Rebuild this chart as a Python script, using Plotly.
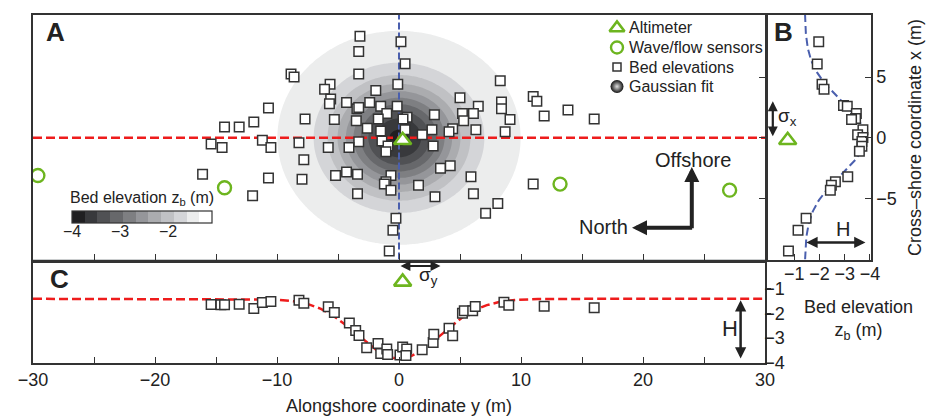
import numpy as np
import plotly.graph_objects as go

W, HP = 930, 416

# ---------------- data ----------------
# Panel A: bed-elevation survey positions, alongshore y (m) and cross-shore x (m)
bedA_y = [-8.85, -8.6, -10.7, -14.3, -13.1, -11.9, -15.4, -14.5, -11.2, -10.5, -16.1, -10.7, -12.0,
          -3.2, -3.3, -3.3, -5.65, -6.1, -5.6, -5.7, -4.3, -1.9, -0.1, -2.4, -1.5, -0.15, -3.45, -3.3,
          -1.0, -7.7, -5.3, -3.5, -1.7, -2.6, -1.5, -3.3, -1.4, -0.9, -1.07, -8.2, -5.8, -4.1, -7.8,
          -7.95, -5.2, -4.3, -3.4, -0.66, -1.07, -1.2, -0.66, -3.4, -0.25, -0.5, -0.8,
          0.16, 0.5, 8.3, 5.0, 6.5, 8.4, 8.4, 5.2, 6.1, 5.3, 9.1, 2.9, 0.66, 0.33, 8.7, 6.3, 4.4, 4.1,
          2.7, 0.5, 1.9, 2.8, 4.2, 3.4, 5.9, 1.6, 6.1, 2.95, 8.1, 7.1, 11.0, 11.3, 11.9, 13.85, 16.0, 11.0]
bedA_x = [5.25, 5.0, 2.46, 0.9, 0.9, 1.3, -0.5, -0.8, -0.2, -0.8, -3.0, -3.3, -4.75,
          8.36, 7.1, 5.25, 4.4, 4.0, 3.2, 2.8, 2.9, 3.9, 4.4, 2.9, 2.6, 2.6, 2.4, 2.5,
          2.0, 1.56, 1.5, 1.4, 1.56, 0.8, 0.57, -0.33, -0.25, -0.66, -1.15, -0.4, -0.8, -0.8, -1.8,
          -3.4, -3.1, -2.8, -3.0, -3.1, -3.6, -3.8, -4.3, -4.6, -6.6, -7.6, -9.3,
          7.9, 6.1, 4.7, 3.3, 2.6, 2.95, 2.4, 2.0, 2.0, 1.4, 1.5, 1.9, 1.7, 1.56, 0.5, 0.66, 0.74, 0.5,
          0.66, 0.66, 0.25, -0.66, -2.3, -2.5, -3.2, -3.9, -4.6, -4.85, -5.4, -6.2, 3.4, 3.0, 1.8, 2.3, 1.56, -3.8]
# wave/flow sensors (alongshore y, cross-shore x)
sensor_y = [-29.6, -14.3, 13.2, 27.1]
sensor_x = [-3.1, -4.1, -3.8, -4.3]
# altimeter position and elevation
alt_y = [0.3]
alt_x = [-0.2]
alt_z = [-0.74]

# Panel B: cross-shore profile (x, z_b)
bedB_x = [7.9, 6.07, 4.4, 4.0, 2.65, 2.6, 2.0, 1.6, 1.5, 0.66, 0.25, 0.03, -0.3, -0.7, -1.1,
          -3.2, -3.6, -3.9, -4.3, -6.6, -7.6, -9.3]
bedB_z = [-1.97, -1.91, -2.1, -2.18, -2.95, -3.1, -3.46, -3.43, -3.27, -3.72, -3.51, -3.72, -3.68,
          -3.68, -3.58, -3.12, -2.63, -2.47, -2.43, -1.47, -1.15, -0.77]

# Panel C: alongshore profile (y, z_b)
bedC_y = [-15.4, -14.6, -14.3, -13.1, -11.9, -11.2, -10.5, -8.2, -7.8, -5.8, -5.3, -4.07, -3.55,
          -3.28, -2.65, -1.72, -1.5, -1.0, -0.93, 0.08, 0.3, 0.63, 0.57, 1.9, 2.8, 2.85, 4.1, 4.4,
          5.2, 5.35, 6.04, 6.25, 8.6, 9.0, 11.9, 16.0]
bedC_z = [-1.65, -1.66, -1.66, -1.64, -1.81, -1.57, -1.53, -1.48, -1.6, -1.74, -1.97, -2.39, -2.69,
          -2.89, -3.39, -3.22, -3.62, -3.44, -3.66, -3.68, -3.36, -3.44, -3.7, -3.47, -3.18, -2.84,
          -2.6, -2.9, -2.0, -1.9, -1.9, -1.73, -1.56, -1.68, -1.72, -1.78]

# Gaussian fit parameters
fit_base, fit_H = -1.42, 2.40
sigma_x, sigma_y = 3.0, 3.4
surf_base, surf_H = -1.33, 2.47      # surface shown in panel A
transect_x = 0.0                    # alongshore transect (red, panel A)
transect_y = 0.0                    # cross-shore transect (blue, panel A)

# colour bar
cb_min, cb_max, n_bins = -4.0, -1.1, 11
cb_ticks = [-4, -3, -2]
bin_colors = ['#1f1f21', '#38393c', '#505154', '#67686b', '#7e7f82', '#95969a',
              '#abacaf', '#c0c1c4', '#d4d5d8', '#eceded', '#ffffff']

# ticks
c_xticks = [-30, -20, -10, 0, 10, 20, 30]
c_xminor = [-25, -15, -5, 5, 15, 25]
a_xticks = [-25, -20, -15, -10, -5, 0, 5, 10, 15, 20, 25]
a_yticks = [-5, 0, 5]
b_zticks = [-1, -2, -3, -4]
c_zticks = [-1, -2, -3, -4]

legend_labels = ['Altimeter', 'Wave/flow sensors', 'Bed elevations', 'Gaussian fit']

# ---------------- styling ----------------
FONT = 'Liberation Sans, Arial, Helvetica, sans-serif'
TXT = '#222222'
LINE = '#333333'
GREEN = '#6db51f'
RED = '#ee1c1c'
BLUE = '#4a5fae'


def fx(p):
    return p / W


def fy(p):
    return (HP - p) / HP


def mlab(v):
    return ('\u2212' + str(abs(v))) if v < 0 else str(v)


fig = go.Figure()

# Panel A Gaussian surface (grid covers the whole panel)
gy = np.linspace(-30, 30, 301)
gx = np.linspace(-10, 10.1, 102)
GY, GX = np.meshgrid(gy, gx)
Z = surf_base - surf_H * np.exp(-GX ** 2 / (2 * sigma_x ** 2) - GY ** 2 / (2 * sigma_y ** 2))
wbin = (cb_max - cb_min) / n_bins
nlev = n_bins - 1
# colorscale for contour fills: region above level k is sampled at (k+0.5)/nlev
fill_scale = [[0.0, bin_colors[0]], [0.25 / nlev, bin_colors[0]]]
for k in range(nlev):
    lo = (k + 0.25) / nlev
    hi = min((k + 1.25) / nlev, 1.0)
    fill_scale.append([lo, bin_colors[k + 1]])
    fill_scale.append([hi, bin_colors[k + 1]])
fig.add_trace(go.Contour(
    x=gy, y=gx, z=Z, xaxis='x', yaxis='y',
    contours=dict(start=cb_min + wbin, end=cb_min + nlev * wbin + 1e-4, size=wbin,
                  coloring='fill', showlines=False),
    line=dict(width=0, smoothing=1.0),
    colorscale=fill_scale, showscale=False,
    hoverinfo='skip', showlegend=False))

# colour bar (stepped, -4 .. -1.1); its title and labels are annotations below
CB_X0, CB_LEN, CB_TOP, CB_THICK = 72, 139.5, 211, 12
bar_scale = []
for i, c in enumerate(bin_colors):
    bar_scale.append([i / n_bins, c])
    bar_scale.append([(i + 1) / n_bins, c])
fig.add_trace(go.Scatter(
    x=[None], y=[None], mode='markers', xaxis='x', yaxis='y', showlegend=False, hoverinfo='skip',
    marker=dict(color=[cb_min], colorscale=bar_scale, cmin=cb_min, cmax=cb_max, showscale=True,
                colorbar=dict(orientation='h', x=fx(CB_X0), xanchor='left', y=fy(CB_TOP), yanchor='top',
                              lenmode='pixels', len=CB_LEN, thickness=CB_THICK, xpad=0, ypad=0,
                              outlinecolor=LINE, outlinewidth=1.2,
                              tickvals=cb_ticks, ticks='', showticklabels=False))))

# transect lines in A
fig.add_trace(go.Scatter(x=[-30, 30], y=[transect_x, transect_x], mode='lines', xaxis='x', yaxis='y',
                         line=dict(color=RED, width=2.5, dash='9px,4px'), showlegend=False, hoverinfo='skip'))
fig.add_trace(go.Scatter(x=[transect_y, transect_y], y=[-10, 10.1], mode='lines', xaxis='x', yaxis='y',
                         line=dict(color=BLUE, width=2, dash='7px,3px'), showlegend=False, hoverinfo='skip'))

sq = dict(symbol='square', size=9.5, color='white', line=dict(color=LINE, width=1.5))
tri = dict(symbol='triangle-up', size=15, color='white', line=dict(color=GREEN, width=2.6))
circ = dict(symbol='circle-open', size=13, color=GREEN, line=dict(width=2.4))
gauss_key = dict(symbol='circle', size=13, color='#111111', gradient=dict(type='radial', color='#e0e0e0'))

fig.add_trace(go.Scatter(x=bedA_y, y=bedA_x, mode='markers', xaxis='x', yaxis='y', marker=sq,
                         name='Bed elevations', showlegend=False))
fig.add_trace(go.Scatter(x=sensor_y, y=sensor_x, mode='markers', xaxis='x', yaxis='y', marker=circ,
                         name='Wave/flow sensors', showlegend=False))
fig.add_trace(go.Scatter(x=alt_y, y=alt_x, mode='markers', xaxis='x', yaxis='y', marker=tri,
                         name='Altimeter', showlegend=False))

# Panel B
xb = np.linspace(-10, 10.1, 202)
zb = fit_base - fit_H * np.exp(-xb ** 2 / (2 * sigma_x ** 2))
fig.add_trace(go.Scatter(x=zb, y=xb, mode='lines', xaxis='x2', yaxis='y2',
                         line=dict(color=BLUE, width=2, dash='8px,4px'), showlegend=False, hoverinfo='skip'))
fig.add_trace(go.Scatter(x=bedB_z, y=bedB_x, mode='markers', xaxis='x2', yaxis='y2', marker=sq, showlegend=False))
fig.add_trace(go.Scatter(x=alt_z, y=alt_x, mode='markers', xaxis='x2', yaxis='y2', marker=tri, showlegend=False))

# Panel C
yc = np.linspace(-30, 30, 601)
zc = fit_base - fit_H * np.exp(-yc ** 2 / (2 * sigma_y ** 2))
fig.add_trace(go.Scatter(x=yc, y=zc, mode='lines', xaxis='x3', yaxis='y3',
                         line=dict(color=RED, width=2.5, dash='9px,4px'), showlegend=False, hoverinfo='skip'))
fig.add_trace(go.Scatter(x=bedC_y, y=bedC_z, mode='markers', xaxis='x3', yaxis='y3', marker=sq, showlegend=False))
fig.add_trace(go.Scatter(x=alt_y, y=alt_z, mode='markers', xaxis='x3', yaxis='y3', marker=tri, showlegend=False))

# Legend keys on a hidden pixel-unit overlay axis
LEG_KEY_X, LEG_TXT_X = 617, 627
LEG_ROWS = [28, 47.5, 67, 86.5]
key_styles = [dict(tri, size=13), dict(circ, size=12), dict(sq, size=8), gauss_key]
for lab, ky, st in zip(legend_labels, LEG_ROWS, key_styles):
    fig.add_trace(go.Scatter(x=[LEG_KEY_X], y=[ky], mode='markers', xaxis='x4', yaxis='y4',
                             marker=st, showlegend=False, hoverinfo='skip'))

# ---------------- axes ----------------
ax_common = dict(showline=True, mirror=True, linecolor=LINE, linewidth=1.5, showgrid=False, zeroline=False,
                 tickcolor=LINE, tickwidth=1.3, ticklen=6,
                 tickfont=dict(family=FONT, size=18, color=TXT), fixedrange=True)
ax_c_right = dict(ax_common, ticklen=4)
yA = [fy(259.5), fy(15)]
fig.update_layout(
    xaxis=dict(domain=[fx(33), fx(765)], range=[-30, 30], anchor='y', ticks='inside',
               tickvals=a_xticks, showticklabels=False, **ax_common),
    yaxis=dict(domain=yA, range=[-10, 10.1], anchor='x', side='right', ticks='inside',
               tickvals=a_yticks, showticklabels=False, **ax_common),
    xaxis2=dict(domain=[fx(768), fx(871)], range=[0.04, -4.04], anchor='y2', ticks='inside',
                tickvals=b_zticks, ticktext=[mlab(v) for v in b_zticks], ticklabelstandoff=-3, **ax_common),
    yaxis2=dict(domain=yA, range=[-10, 10.1], anchor='x2', side='right', ticks='inside',
                tickvals=a_yticks, ticktext=[mlab(v) for v in a_yticks], **ax_common),
    xaxis3=dict(domain=[fx(33), fx(765)], range=[-30, 30], anchor='y3', ticks='inside',
                tickvals=c_xticks, ticktext=[mlab(v) for v in c_xticks],
                minor=dict(tickvals=c_xminor, ticks='inside', ticklen=6, tickcolor=LINE, tickwidth=1.3),
                **ax_common),
    yaxis3=dict(domain=[fy(363), fy(262.5)], range=[-4, 0.04], anchor='x3', side='right', ticks='outside',
                tickvals=c_zticks, ticktext=[mlab(v) for v in c_zticks], ticklabelstandoff=-10,
                **ax_c_right),
    xaxis4=dict(domain=[0, 1], range=[0, W], visible=False, fixedrange=True, anchor='y4'),
    yaxis4=dict(domain=[0, 1], range=[HP, 0], visible=False, fixedrange=True, anchor='x4'),
)

# ---------------- annotations ----------------
ann = []


def text(x, y, s, size=18, bold=False, xref='paper', yref='paper', xanchor='center', yanchor='middle', angle=0):
    ann.append(dict(x=x, y=y, xref=xref, yref=yref, text=('<b>%s</b>' % s) if bold else s, showarrow=False,
                    xanchor=xanchor, yanchor=yanchor, textangle=angle,
                    font=dict(family=FONT, size=size, color=TXT)))


def arrow(x, y, ax_, ay_, xr, yr, width=2.5, both=True, size=1.0):
    ann.append(dict(x=x, y=y, ax=ax_, ay=ay_, xref=xr, yref=yr, axref=xr, ayref=yr, text='', showarrow=True,
                    arrowhead=2, arrowsize=size, arrowwidth=width, arrowcolor=TXT,
                    arrowside='end+start' if both else 'end', startarrowhead=2, startarrowsize=size,
                    standoff=0, startstandoff=0))


text(fx(55), fy(32), 'A', 26, True)
text(fx(783), fy(32), 'B', 26, True)
text(fx(59), fy(279), 'C', 26, True)
text(fx(399), fy(406), 'Alongshore coordinate y (m)')
text(fx(915), fy(138), 'Cross\u2013shore coordinate x (m)', angle=-90)
text(fx(858), fy(320), 'Bed elevation<br>z<sub>b</sub> (m)')
for lab, ky in zip(legend_labels, LEG_ROWS):
    text(fx(LEG_TXT_X), fy(ky), lab, 16, xanchor='left')

# colour-bar title and tick labels
text(fx(CB_X0 + CB_LEN / 2), fy(198), 'Bed elevation z<sub>b</sub> (m)', 16)
for v in cb_ticks:
    text(fx(CB_X0 + (v - cb_min) / (cb_max - cb_min) * CB_LEN), fy(231), mlab(v), 16)

# sigma_y arrow (panel C top) and label
arrow(sigma_y, -0.1, 0, -0.1, 'x3', 'y3', width=2.2, size=0.9)
text(2.4, -0.5, '\u03c3<sub>y</sub>', 19, xref='x3', yref='y3')
# sigma_x arrow in panel B
arrow(-0.15, sigma_x, -0.15, 0, 'x2', 'y2', width=2.2, size=0.9)
text(-0.73, 1.7, '\u03c3<sub>x</sub>', 19, xref='x2', yref='y2')
# H arrows
arrow(fit_base - fit_H, -8.6, fit_base, -8.6, 'x2', 'y2', width=2.5, size=0.9)
text(-2.92, -7.5, 'H', 20, xref='x2', yref='y2')
arrow(28.0, fit_base - fit_H, 28.0, fit_base, 'x3', 'y3', width=2.5, size=0.9)
text(27.1, -2.6, 'H', 22, xref='x3', yref='y3')
# compass
arrow(24.0, -2.4, 24.0, -7.55, 'x', 'y', width=4, both=False, size=0.75)
arrow(19.1, -7.4, 24.15, -7.4, 'x', 'y', width=4, both=False, size=0.75)
text(24.1, -1.8, 'Offshore', 20, xref='x', yref='y')
text(18.95, -7.35, 'North', 20, xref='x', yref='y', xanchor='right')

fig.update_layout(
    width=W, height=HP, margin=dict(l=0, r=0, t=0, b=0, autoexpand=False),
    paper_bgcolor='white', plot_bgcolor='rgba(0,0,0,0)',
    font=dict(family=FONT, size=16, color=TXT),
    annotations=ann,
    showlegend=False,
)

fig.write_html('out.html', config={'displayModeBar': False},
               post_script="document.body.style.margin='0px';document.body.style.overflow='hidden';")
